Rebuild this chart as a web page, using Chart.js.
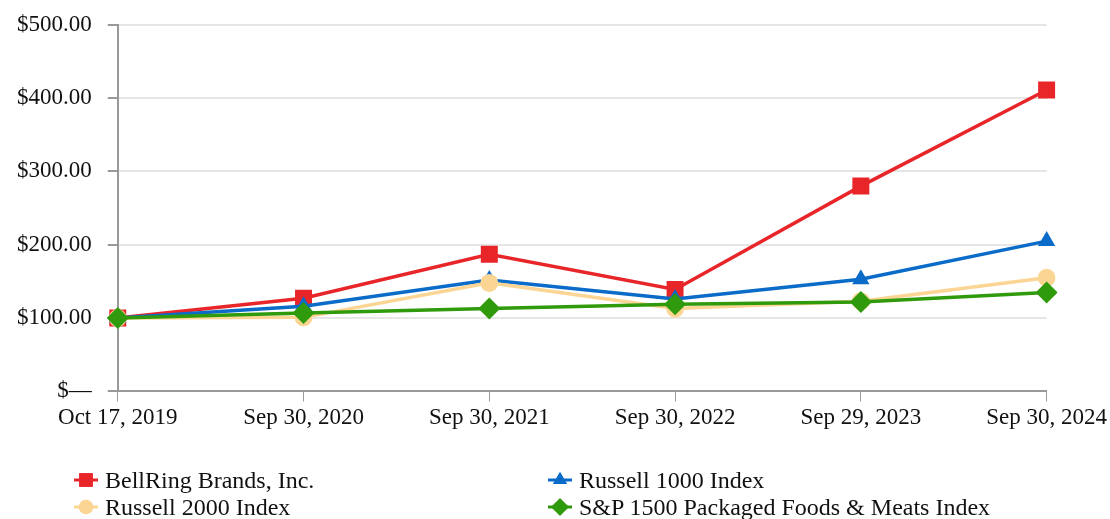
<!DOCTYPE html>
<html>
<head>
    <title>Total Shareholder Return</title>
    <script src="https://cdn.jsdelivr.net/npm/chart.js"></script>
    <style>
        body { margin: 0; background: #fff; font-family: "Liberation Serif", serif; }
        .chart-container { position: relative; width: 1110px; height: 440px; }
        #tsrChart { position: absolute; left: 1px; top: -5px; }
        .legend { position: absolute; left: 0; top: 0; width: 1110px; height: 519px; pointer-events: none; }
        .legend-item { position: absolute; display: flex; align-items: center; font-size: 24px; color: #111; white-space: nowrap; }
        .legend-item canvas { margin-right: 7px; }
    </style>
</head>
<body>
    <div class="chart-container">
        <canvas id="tsrChart" width="1109" height="440"></canvas>
    </div>
    <div class="legend" id="legend"></div>

    <script>
        var dates = ['Oct 17, 2019', 'Sep 30, 2020', 'Sep 30, 2021', 'Sep 30, 2022', 'Sep 29, 2023', 'Sep 30, 2024'];
        var bellRing = [100, 127, 187, 139, 280, 411];
        var russell1000 = [100, 116, 152, 126, 153, 205];
        var russell2000 = [100, 101, 148, 113, 123, 155];
        var sp1500Foods = [100, 107, 113, 119, 122, 135];
        var yTicks = [0, 100, 200, 300, 400, 500];

        var series = [
            {label: 'BellRing Brands, Inc.', data: bellRing, color: '#e8262a', style: 'rect', radius: 12},
            {label: 'Russell 1000 Index', data: russell1000, color: '#0a6bc9', style: 'triangle', radius: 10},
            {label: 'Russell 2000 Index', data: russell2000, color: '#fbd593', style: 'circle', radius: 9},
            {label: 'S&P 1500 Packaged Foods & Meats Index', data: sp1500Foods, color: '#2f9a0b', style: 'rectRot', radius: 11}
        ];

        var ctx = document.getElementById('tsrChart').getContext('2d');
        var tsrChart = new Chart(ctx, {
            type: 'line',
            data: {
                labels: dates,
                datasets: series.map(function(s) {
                    return {
                        label: s.label,
                        data: s.data,
                        borderColor: s.color,
                        backgroundColor: s.color,
                        pointBackgroundColor: s.color,
                        pointBorderWidth: 0,
                        pointStyle: s.style,
                        pointRadius: s.radius,
                        borderWidth: 3.5,
                        tension: 0
                    };
                }).reverse()
            },
            options: {
                responsive: false,
                animation: false,
                layout: {padding: {left: 0, right: 0, top: 4, bottom: 0}},
                plugins: {legend: {display: false}, tooltip: {enabled: false}},
                scales: {
                    x: {
                        offset: false,
                        grid: {drawOnChartArea: false, tickLength: 10, tickColor: '#999'},
                        border: {color: '#999', width: 2},
                        ticks: {color: '#111', padding: 3, maxRotation: 0, font: {family: 'Liberation Serif', size: 23}}
                    },
                    y: {
                        min: 0,
                        max: 500,
                        afterBuildTicks: function(axis) {
                            axis.ticks = yTicks.map(function(v) { return {value: v}; });
                        },
                        grid: {color: '#e6e6e6', lineWidth: 2, tickLength: 10, tickColor: '#999'},
                        border: {color: '#999', width: 2},
                        ticks: {
                            color: '#111',
                            padding: 16,
                            font: {family: 'Liberation Serif', size: 23},
                            callback: function(v) { return v === 0 ? '$\u2014' : '$' + v.toFixed(2); }
                        }
                    }
                }
            }
        });

        // html legend in two columns
        var legendPos = [[74, 480], [548, 480], [74, 507], [548, 507]];
        var legend = document.getElementById('legend');
        series.forEach(function(s, i) {
            var item = document.createElement('div');
            item.className = 'legend-item';
            item.style.left = legendPos[i][0] + 'px';
            item.style.top = (legendPos[i][1] - 14) + 'px';
            var c = document.createElement('canvas');
            c.width = 24; c.height = 28;
            var g = c.getContext('2d');
            g.strokeStyle = s.color; g.lineWidth = 3;
            g.beginPath(); g.moveTo(0, 14); g.lineTo(24, 14); g.stroke();
            g.fillStyle = s.color;
            Chart.helpers.drawPoint(g, {pointStyle: s.style, radius: s.radius * 0.8, rotation: 0}, 12, 14);
            g.fill();
            item.appendChild(c);
            var t = document.createElement('span');
            t.textContent = s.label;
            item.appendChild(t);
            legend.appendChild(item);
        });
    </script>
</body>
</html>
